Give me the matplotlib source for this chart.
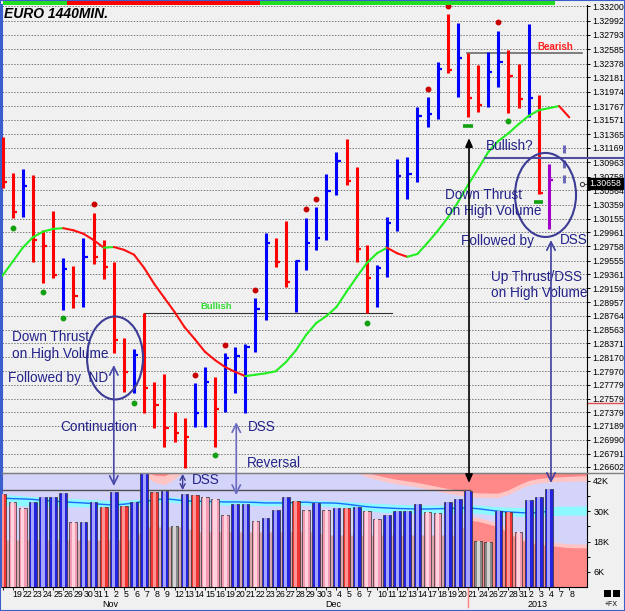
import numpy as np
import matplotlib
matplotlib.use("Agg")
import matplotlib.pyplot as plt
from matplotlib.patches import Ellipse, Rectangle, ConnectionPatch

plt.rcParams['font.family'] = ['Liberation Sans', 'DejaVu Sans']

W, H = 625, 611

# --- DATA ---
days = [18, 19, 22, 23, 24, 25, 26, 29, 30, 31, 1, 2, 5, 6, 7, 8, 9, 12, 13, 14, 15, 16,
        19, 20, 21, 22, 23, 26, 27, 28, 29, 30, 3, 4, 5, 6, 7, 10, 11, 12, 13, 14, 17, 18,
        19, 20, 21, 24, 26, 27, 28, 31, 2, 3, 4, 7, 8]
months = {10: 'Nov', 32: 'Dec', 52: '2013'}

highs = [1.3133, 1.3081, 1.3087, 1.3078, 1.2999, 1.3027, 1.2959, 1.2948, 1.2988, 1.3024,
         1.2985, 1.2954, 1.2845, 1.2829, 1.2880, 1.2782, 1.2793, 1.2739, 1.2730, 1.2780,
         1.2803, 1.2789, 1.2823, 1.2832, 1.2836, 1.2902, 1.2995, 1.2988, 1.3012, 1.2956,
         1.3017, 1.3032, 1.3080, 1.3111, 1.3130, 1.3090, 1.2978, 1.2949, 1.3018, 1.3101,
         1.3104, 1.3176, 1.3190, 1.3240, 1.3309, 1.3296, 1.3253, 1.3236, 1.3255, 1.3285,
         1.3257, 1.3237, 1.3295, 1.3193, 1.3094]
lows = [1.3060, 1.3017, 1.3018, 1.2954, 1.2924, 1.2931, 1.2885, 1.2888, 1.2889, 1.2951,
        1.2929, 1.2823, 1.2767, 1.2766, 1.2737, 1.2716, 1.2688, 1.2696, 1.2658, 1.2717,
        1.2717, 1.2688, 1.2739, 1.2766, 1.2737, 1.2825, 1.2870, 1.2946, 1.2918, 1.2882,
        1.2942, 1.2971, 1.2985, 1.3050, 1.3064, 1.2954, 1.2880, 1.2889, 1.2932, 1.2998,
        1.3044, 1.3068, 1.3147, 1.3159, 1.3224, 1.3190, 1.3161, 1.3168, 1.3176, 1.3204,
        1.3167, 1.3174, 1.3161, 1.3051, 1.3001]
closes = [1.3068, 1.3025, 1.3062, 1.2985, 1.2977, 1.2935, 1.2944, 1.2905, 1.2961, 1.2961,
          1.2946, 1.2842, 1.2796, 1.2820, 1.2773, 1.2749, 1.2716, 1.2709, 1.2703, 1.2737,
          1.2782, 1.2743, 1.2816, 1.2819, 1.2832, 1.2886, 1.2981, 1.2954, 1.2925, 1.2955,
          1.2981, 1.2988, 1.3055, 1.3098, 1.3070, 1.2972, 1.2931, 1.2945, 1.3009, 1.3077,
          1.3080, 1.3163, 1.3166, 1.3230, 1.3229, 1.3246, 1.3189, 1.3179, 1.3226, 1.3240,
          1.3220, 1.3187, 1.3189, 1.3052, 1.3071]
bar_colors = "rrbrrrbrbr" "rrrbrrrrrb" "brbbbbbrrb" "bbbbrrrbbb" "bbbbrbrrbb" "rrbrp"

ma_line = [1.2934, 1.2954, 1.2974, 1.2989, 1.2997, 1.3001, 1.3002, 1.2999, 1.2994, 1.2985,
           1.2974, 1.2975, 1.2971, 1.2964, 1.2945, 1.2922, 1.2902, 1.2882, 1.2860, 1.2843,
           1.2825, 1.2813, 1.2803, 1.2796, 1.2790, 1.2792, 1.2794, 1.2797, 1.2810, 1.2827,
           1.2849, 1.2866, 1.2876, 1.2889, 1.2911, 1.2932, 1.2952, 1.2966, 1.2974, 1.2966,
           1.2961, 1.2965, 1.2981, 1.2998, 1.3017, 1.3039, 1.3064, 1.3087, 1.3111, 1.3127,
           1.3138, 1.3151, 1.3163, 1.3171, 1.3174, 1.3177, 1.3161]

red_dot_x = [9, 19, 22, 25, 30, 31, 42, 44, 49]
red_dot_y = [1.3037, 1.2792, 1.2835, 1.2913, 1.3029, 1.3044, 1.3201, 1.3321, 1.3297]
green_dot_x = [1, 4, 6, 13, 21, 36, 50]
green_dot_y = [1.3002, 1.2911, 1.2873, 1.2751, 1.2677, 1.2866, 1.3156]
green_dash_x = [46, 53]
green_dash_y = [1.3148, 1.3040]
proj_x, proj_lo, proj_hi = 55.45, 1.3065, 1.3121
last_price = 1.30658

volume = [36.7, 33.8, 31.2, 33.5, 35.5, 35.5, 37.3, 25.9, 25.9, 33.8,
          31.8, 37.5, 32.2, 33.8, 45.0, 37.7, 38.0, 24.2, 36.7, 36.6,
          35.8, 34.7, 28.5, 32.7, 33.0, 26.1, 27.5, 30.5, 35.5, 34.2,
          30.5, 33.1, 30.5, 31.2, 31.2, 31.8, 30.2, 26.8, 28.5, 30.1,
          30.1, 32.9, 29.6, 29.2, 33.8, 34.7, 38.1, 18.2, 17.7, 30.2,
          29.6, 21.7, 34.5, 35.5, 38.7]
vol_colors = "rppbbbbpbb" "rbrbbrbgbr" "pppbbpbbbr" "pbpbrbppbb" "bbppbbbggb" "rpbbb"
vol_ma = [35.2, 35.0, 34.9, 34.7, 34.3, 34.0, 33.7, 33.5, 33.3, 33.0,
          32.7, 32.5, 32.8, 33.3, 33.9, 34.5, 34.9, 34.6, 34.1, 34.0,
          33.9, 33.8, 33.7, 33.7, 33.6, 33.5, 33.3, 33.3, 33.3, 33.5,
          33.6, 33.3, 33.3, 33.2, 32.8, 32.3, 31.8, 31.5, 31.3, 31.1,
          31.0, 30.9, 30.9, 31.0, 31.1, 31.2, 31.3, 31.0, 30.5, 30.0,
          29.7, 29.5, 29.3, 29.5, 30.0]
cyan_hi = [36.6, 36.4, 36.1, 35.8, 35.6, 35.4, 35.2, 35.0, 34.8, 34.6,
           34.4, 34.2, 34.3, 34.6, 35.0, 35.5, 35.8, 35.6, 35.2, 35.0,
           34.9, 34.8, 34.7, 34.6, 34.5, 34.4, 34.3, 34.3, 34.3, 34.4,
           34.4, 34.3, 34.2, 34.1, 33.9, 33.6, 33.3, 33.1, 32.9, 32.7,
           32.6, 32.5, 32.4, 32.4, 32.5, 32.6, 32.6, 32.4, 32.1, 31.8,
           31.6, 31.5, 31.4, 31.5, 31.8, 32.0, 32.0, 32.1, 32.1]
cyan_lo = [32.3, 32.3, 32.2, 32.2, 32.1, 32.0, 31.9, 31.8, 31.7, 31.6,
           31.5, 31.4, 31.6, 32.0, 32.6, 33.2, 33.6, 33.4, 33.0, 32.8,
           32.7, 32.6, 32.5, 32.5, 32.4, 32.3, 32.2, 32.2, 32.2, 32.4,
           32.4, 32.2, 32.0, 31.8, 31.4, 30.8, 30.2, 29.8, 29.5, 29.3,
           29.2, 29.1, 29.1, 29.2, 29.3, 29.4, 29.5, 29.2, 28.8, 28.4,
           28.2, 28.0, 27.9, 28.0, 28.2, 28.4, 28.5, 28.5, 28.5]
top_red = [46] * 15 + [44.3, 44.0] + [46] * 19 + [
    45.3, 44.3, 43.4, 42.6, 42.0, 41.4, 40.6, 39.8, 39.0, 38.3,
    37.6, 37.3, 37.2, 37.2, 38.5, 40.5, 42.2, 43.0, 43.4, 43.6,
    43.8, 44.0, 44.2]
top_glow = [46] * 14 + [44.0, 41.5, 40.5, 42.8] + [46] * 17 + [45.3,
    43.6, 42.5, 41.6, 40.8, 40.2, 39.6, 38.8, 38.0, 37.2, 36.5,
    35.8, 35.5, 35.4, 35.4, 36.7, 38.7, 40.4, 41.2, 41.6, 41.8,
    41.9, 42.0, 42.1]
low_top = [18.6] * 14 + [23.8] * 5 + [21.8] * 13 + [20.6] * 14 + [
    26.5, 26.0, 25.0, 23.8, 21.5, 19.0, 17.4, 16.8, 16.4, 16.0, 15.6, 15.5, 15.5]
low_glow = [18.6] * 46 + [
    28.0, 27.5, 26.5, 25.3, 23.0, 20.5, 18.9, 18.3, 17.9, 17.5, 17.1, 17.0, 17.0]
vol_ref = 38.4

price_ticks = [1.33200, 1.32992, 1.32793, 1.32585, 1.32378, 1.32181, 1.31974, 1.31767,
               1.31571, 1.31365, 1.31169, 1.30963, 1.30758, 1.30564, 1.30359, 1.30155,
               1.29961, 1.29758, 1.29555, 1.29361, 1.29159, 1.28957, 1.28764, 1.28563,
               1.28371, 1.28170, 1.27970, 1.27779, 1.27579, 1.27379, 1.27189, 1.26990,
               1.26791, 1.26602]
vol_ticks = [6, 18, 30, 42]

# --- colours ---
PRICE_COL = {'r': '#ff0000', 'b': '#0000ff', 'p': '#a000c8'}
VOL_EDGE = {'b': '#2424e0', 'p': '#f29ab4', 'r': '#f03434', 'g': '#8a8a8a'}
VOL_MID = {'b': '#a4a4ff', 'p': '#ffd2de', 'r': '#ff9494', 'g': '#d4d4d4'}
NAVY = '#22228a'
BG = '#f0f0f0'


def fx(px):
    return px / W


def fy(py):
    return 1 - py / H


fig = plt.figure(figsize=(W / 100, H / 100), dpi=100, facecolor=BG)
L, R = fx(2), fx(587)
ax = fig.add_axes([L, fy(472.5), R - L, fy(5) - fy(472.5)])
axv = fig.add_axes([L, fy(587), R - L, fy(472.5) - fy(587)], sharex=ax)

x = np.arange(len(highs))
xb = np.arange(len(cyan_hi))

# --- price panel ---
ax.set_facecolor(BG)
ax.set_xlim(-0.05, 57.76)
ax.set_ylim(1.26519, 1.33218)
ax.set_yticks(price_ticks)
ax.set_yticklabels(['%.5f' % v for v in price_ticks])
ax.yaxis.tick_right()
ax.tick_params(axis='y', length=2.5, width=0.7, pad=1.5, labelsize=6.3, colors='black')
ax.tick_params(axis='x', bottom=False, labelbottom=False)
ax.grid(axis='y', ls=(0, (1.5, 1.5)), color='#7a7a7a', lw=0.7)
for s in ['top', 'bottom']:
    ax.spines[s].set_visible(False)
ax.spines['left'].set_color('#3a5fcd')
ax.spines['left'].set_linewidth(1.5)
ax.spines['right'].set_color('black')

cols = [PRICE_COL[c] for c in bar_colors]
ax.vlines(x, lows, highs, colors=cols, lw=2.2, zorder=4)
ax.hlines(closes, x, x + 0.42, colors=cols, lw=1.6, zorder=4)

ma = np.array(ma_line)
for k in range(len(ma) - 1):
    c = '#22ee22' if ma[k + 1] >= ma[k] else '#ff1010'
    ax.plot([k, k + 1], ma[k:k + 2], color=c, lw=1.5, solid_capstyle='round', zorder=5)

ax.plot(red_dot_x, red_dot_y, 'o', color='#c80000', ms=3.2, zorder=5)
ax.plot(green_dot_x, green_dot_y, 'o', color='#10a010', ms=3.2, zorder=5)
ax.hlines(green_dash_y, np.array(green_dash_x) - 0.45, np.array(green_dash_x) + 0.45,
          colors='#10a010', lw=2.6, zorder=5)
ax.plot([proj_x, proj_x], [proj_hi, proj_lo], color='#6a6ab8', lw=2.2,
        ls=(0, (2.6, 2.3)), zorder=5)

# reference lines
ax.plot([14, 38.5], [1.28805, 1.28805], color='#333333', lw=0.8, zorder=3)
ax.plot([45.9, 57.26], [1.32530, 1.32530], color='#6a6a6a', lw=1.2, zorder=3)
ax.plot([47.68, 61.5], [1.31026, 1.31026], color='#5050a0', lw=1.5, zorder=6, clip_on=False)
ax.plot([1.0, 1.066], [1.27515, 1.27515], transform=ax.get_yaxis_transform(),
        color='#e05050', lw=1, clip_on=False)
ax.plot([57.3, 57.76], [last_price, last_price], color='#505050', lw=0.8, zorder=6)
ax.plot([57.3], [last_price], 'o', mfc='white', mec='#404040', ms=3, mew=0.8, zorder=7)
ax.text(1.004, last_price, '%.5f' % last_price, transform=ax.get_yaxis_transform(),
        ha='left', va='center', fontsize=6.3, color='white', zorder=10, clip_on=False,
        bbox=dict(boxstyle='square,pad=0.15', fc='black', ec='black'))

# ellipses
ax.add_patch(Ellipse((11.12, 1.2816), 5.53, 0.01189, fill=False, ec='#3c3c96', lw=1.5, zorder=7))
ax.add_patch(Ellipse((53.66, 1.30496), 6.03, 0.01204, fill=False, ec='#3c3c96', lw=1.5, zorder=7))

# annotations
tk = dict(color=NAVY, fontsize=9.8, va='center', ha='left', zorder=8)
ax.text(0.94, 1.28461, 'Down Thrust', **tk)
ax.text(0.94, 1.28217, 'on High Volume', **tk)
ax.text(0.54, 1.27873, 'Followed by  ND', **tk)
ax.text(5.68, 1.27171, 'Continuation', **tk)
ax.text(24.26, 1.27171, 'DSS', **tk)
ax.text(24.16, 1.26655, 'Reversal', **tk)
ax.text(47.78, 1.31198, 'Bullish?', **tk)
ax.text(43.72, 1.30496, 'Down Thrust', **tk)
ax.text(43.72, 1.30266, 'on High Volume', **tk)
ax.text(45.3, 1.29836, 'Followed by', **tk)
ax.text(55.09, 1.29851, 'DSS', **tk)
ax.text(48.27, 1.29321, 'Up Thrust/DSS', **tk)
ax.text(48.27, 1.29091, 'on High Volume', **tk)
ax.text(21.1, 1.28891, 'Bullish', color='#33dd33', fontsize=6.8, fontweight='bold',
        ha='center', va='center', zorder=8)
ax.text(52.82, 1.32616, 'Bearish', color='#ff2020', fontsize=7, fontweight='bold',
        ha='left', va='center', zorder=8)
ax.text(0.15, 1.3309, 'EURO 1440MIN.', color='black', fontsize=10, fontweight='bold',
        fontstyle='italic', ha='left', va='center', zorder=8)

# --- volume panel ---
axv.set_facecolor('#d4d4fa')
axv.set_ylim(0, 45.35)
axv.fill_between(xb[:47], 0, low_top[:47], color='#d9a6ac', lw=0)
axv.fill_between(xb[46:], 0, low_glow[46:], color='#ffc4c4', lw=0)
axv.fill_between(xb[46:], 0, low_top[46:], color='#ff8888', lw=0)
axv.fill_between(xb, top_glow, 46, color='#ffc4c4', lw=0)
axv.fill_between(xb, top_red, 46, color='#ff8888', lw=0)
axv.fill_between(xb, cyan_lo, cyan_hi, color='#8cf8ff', lw=0)
axv.plot(x, vol_ma, color='#1a6cff', lw=1)
axv.plot([0, 46.2], [vol_ref, vol_ref], color='#505050', lw=1)

axv.bar(x, volume, width=0.76, color=[VOL_EDGE[c] for c in vol_colors],
        edgecolor='#303030', lw=0.5, zorder=3)
axv.bar(x, volume, width=0.3, color=[VOL_MID[c] for c in vol_colors], lw=0, zorder=3)
axv.text(18.72, 42.4, 'DSS', color=NAVY, fontsize=9.8, va='center', ha='left', zorder=8)

axv.yaxis.tick_right()
axv.set_yticks(vol_ticks)
axv.set_yticklabels(['%dK' % v for v in vol_ticks])
axv.set_yticks([12, 24, 36], minor=True)
axv.tick_params(axis='y', which='both', length=2.5, width=0.7, pad=2, labelsize=6.5)
axv.set_xticks(np.arange(len(days)))
axv.set_xticklabels([''] + [str(d) for d in days[1:]])
axv.tick_params(axis='x', length=2, width=0.6, pad=0.5, labelsize=6.3)
for lbl in axv.get_xticklabels():
    lbl.set_ha('left')
for i, m in months.items():
    axv.text(i - 0.15, -0.15, m, transform=axv.get_xaxis_transform(), fontsize=6.5,
             ha='left', va='center', clip_on=False)
axv.plot([46, 46], [-0.01, -0.175], transform=axv.get_xaxis_transform(),
         color='#ff8080', lw=1, clip_on=False)
axv.spines['top'].set_color('#808080')
axv.spines['left'].set_color('#3a5fcd')
axv.spines['left'].set_linewidth(1.5)


# arrows linking price and volume
def link(xi, p, v, style, color):
    con = ConnectionPatch(xyA=(xi, p), coordsA=ax.transData, xyB=(xi, v),
                          coordsB=axv.transData, arrowstyle=style, color=color,
                          lw=1.2, zorder=9)
    fig.add_artist(con)


link(11, 1.2806, 40.0, '<->,head_length=0.6,head_width=0.3', '#4848a8')
link(23.1, 1.2724, 36.4, '<->,head_length=0.6,head_width=0.3', '#6a6ac0')
link(46.1, 1.3131, 41.2, '<|-|>,head_length=0.5,head_width=0.22', 'black')
link(54.2, 1.2985, 41.2, '<->,head_length=0.6,head_width=0.3', '#4040a0')
axv.annotate('', xy=(17.8, 44.8), xytext=(17.8, 38.4),
             arrowprops=dict(arrowstyle='<->,head_length=0.35,head_width=0.18',
                             color='#3c3c96', lw=1.0, shrinkA=0, shrinkB=0))

# separator, strip and frame
fig.add_artist(plt.Line2D([L, 1], [fy(472.5)] * 2, color='#808080', lw=1))
for a, b, c in [(3, 67, '#22dd22'), (67, 260, '#ff0000'), (260, 555, '#22dd22')]:
    fig.add_artist(Rectangle((fx(a), fy(5)), fx(b) - fx(a), fy(1) - fy(5),
                             transform=fig.transFigure, color=c, lw=0))
for a in (604, 613):
    fig.add_artist(Rectangle((fx(a), fy(597)), fx(7), 7 / H, transform=fig.transFigure,
                             color='black', lw=0))
fig.text(fx(611), fy(604), '+FX', fontsize=5, ha='center', va='center')
fig.add_artist(Rectangle((0, 0), 1, 1, transform=fig.transFigure, fill=False,
                         ec='#3a5fcd', lw=1.5))

fig.savefig('out.png', dpi=100, facecolor=BG)
